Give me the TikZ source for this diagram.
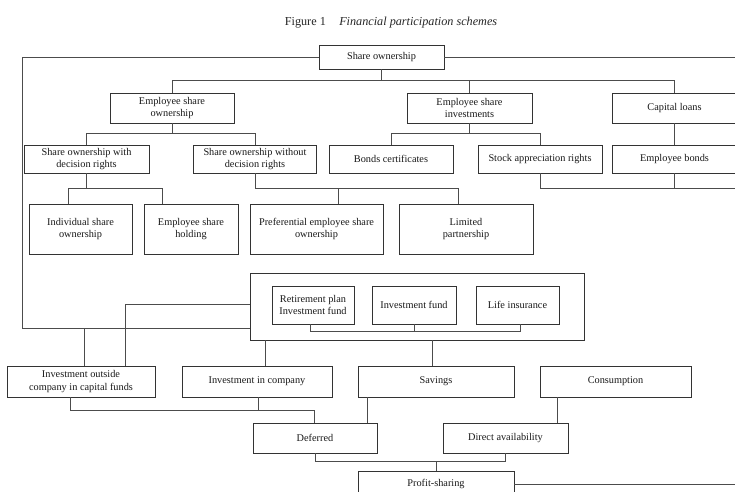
\documentclass[tikz,border=0pt]{standalone}
\usepackage{fontspec}
\setmainfont{Liberation Serif}
\begin{document}
\begin{tikzpicture}[x=1pt,y=-1pt,
  bx/.style={draw=black!80, line width=0.8pt, inner sep=0pt, align=center,
    font=\fontsize{10.3}{12.5}\selectfont, text=black!90},
  ln/.style={draw=black!70, line width=0.8pt}]
\clip (0,0) rectangle (735,491);
\fill[white] (0,0) rectangle (735,491);
% title
\node[font=\fontsize{12.2}{14}\selectfont, text=black!85] (title) at (391,23) {Figure 1\hspace{1.1em}\textit{Financial participation schemes}};
% level 0
\node[bx, minimum width=125pt, minimum height=24pt] (so) at (381.5,57) {Share ownership};
% level 1
\node[bx, minimum width=124pt, minimum height=30pt] (eso) at (172,108) {Employee share\\ownership};
\node[bx, minimum width=125pt, minimum height=30pt] (esi) at (469.5,108) {Employee share\\investments};
\node[bx, minimum width=125pt, minimum height=30pt] (cl) at (674.5,108) {Capital loans};
% level 2
\node[bx, minimum width=125pt, minimum height=28pt] (swd) at (86.5,159) {Share ownership with\\decision rights};
\node[bx, minimum width=123pt, minimum height=28pt] (swod) at (255,159) {Share ownership without\\decision rights};
\node[bx, minimum width=124pt, minimum height=28pt] (bc) at (391,159) {Bonds certificates};
\node[bx, minimum width=124pt, minimum height=28pt] (sar) at (540,159) {Stock appreciation rights};
\node[bx, minimum width=125pt, minimum height=28pt] (eb) at (674.5,159) {Employee bonds};
% level 3
\node[bx, minimum width=103pt, minimum height=50pt] (iso) at (80.5,229) {Individual share\\ownership};
\node[bx, minimum width=94pt, minimum height=50pt] (esh) at (191,229) {Employee share\\holding};
\node[bx, minimum width=133pt, minimum height=50pt] (peso) at (316.5,229) {Preferential employee share\\ownership};
\node[bx, minimum width=134pt, minimum height=50pt] (lp) at (466,229) {Limited\\partnership};
% container
\node[bx, minimum width=334pt, minimum height=67pt] (cont) at (417,306.5) {};
\node[bx, minimum width=82pt, minimum height=38pt] (rp) at (313,305) {Retirement plan\\Investment fund};
\node[bx, minimum width=84pt, minimum height=38pt] (ivf) at (414,305) {Investment fund};
\node[bx, minimum width=83pt, minimum height=38pt] (li) at (517.5,305) {Life insurance};
% lower row
\node[bx, minimum width=148pt, minimum height=31pt] (ioc) at (81,381.5) {Investment outside\\company in capital funds};
\node[bx, minimum width=150pt, minimum height=31pt] (iic) at (257,381.5) {Investment in company};
\node[bx, minimum width=156pt, minimum height=31pt] (sav) at (436,381.5) {Savings};
\node[bx, minimum width=151pt, minimum height=31pt] (con) at (615.5,381.5) {Consumption};
\node[bx, minimum width=124pt, minimum height=30pt] (def) at (315,438) {Deferred};
\node[bx, minimum width=125pt, minimum height=30pt] (da) at (505.5,438) {Direct availability};
\node[bx, minimum width=156pt, minimum height=26pt] (ps) at (436,484) {Profit-sharing};
% free ends
\coordinate (lc) at (22,328);
\coordinate (re) at (735,57);
\coordinate (re2) at (735,188);
% connectors
\draw[ln] (so.west) -| (lc) -- (lc -| cont.west);
\draw[ln] (so.east) -- (re);
\draw[ln] (so.south) -- ++(0,11) coordinate (j1);
\draw[ln] (eso.north) |- (j1) -| (cl.north);
\draw[ln] (esi.north) -- (esi.north |- j1);
\draw[ln] (eso.south) -- ++(0,10) coordinate (j2);
\draw[ln] (swd.north) |- (j2) -| (swod.north);
\draw[ln] (esi.south) -- ++(0,10) coordinate (j3);
\draw[ln] (bc.north) |- (j3) -| (sar.north);
\draw[ln] (cl) -- (eb);
\draw[ln] (sar.south) |- (re2);
\draw[ln] (eb.south) -- (eb.south |- re2);
\draw[ln] (swd.south) -- ++(0,15) coordinate (j4);
\draw[ln] ([xshift=-12.5pt]iso.north) |- (j4) -| ([xshift=-29pt]esh.north);
\draw[ln] (swod.south) -- ++(0,15) coordinate (j5) -| ([xshift=-8pt]lp.north);
\draw[ln] ([xshift=21.5pt]peso.north) -- ([xshift=21.5pt]peso.north |- j5);
\draw[ln] ([xshift=-3pt]rp.south) -- ++(0,7) coordinate (j6) -| ([xshift=2.5pt]li.south);
\draw[ln] (ivf.south) -- (ivf.south |- j6);
\draw[ln] ([xshift=3pt]ioc.north) -- ([xshift=3pt]ioc.north |- lc);
\draw[ln] ([yshift=2.5pt]cont.west) -| ([xshift=44pt]ioc.north);
\draw[ln] ([xshift=8pt]iic.north) -- ([xshift=8pt]iic.north |- cont.south);
\draw[ln] ([xshift=-4pt]sav.north) -- ([xshift=-4pt]sav.north |- cont.south);
\draw[ln] ([xshift=-11pt]ioc.south) -- ++(0,13) coordinate (j7) -| ([xshift=-1pt]def.north);
\draw[ln] ([xshift=1pt]iic.south) -- ([xshift=1pt]iic.south |- j7);
\draw[ln] ([xshift=-69pt]sav.south) -- ([xshift=-69pt]sav.south |- def.north);
\draw[ln] ([xshift=-58.5pt]con.south) -- ([xshift=-58.5pt]con.south |- da.north);
\draw[ln] (def.south) -- ++(0,8) coordinate (j8) -| (da.south);
\draw[ln] (ps.north) -- (ps.north |- j8);
\draw[ln] (ps.east) -- (ps.east -| re);
\end{tikzpicture}
\end{document}
